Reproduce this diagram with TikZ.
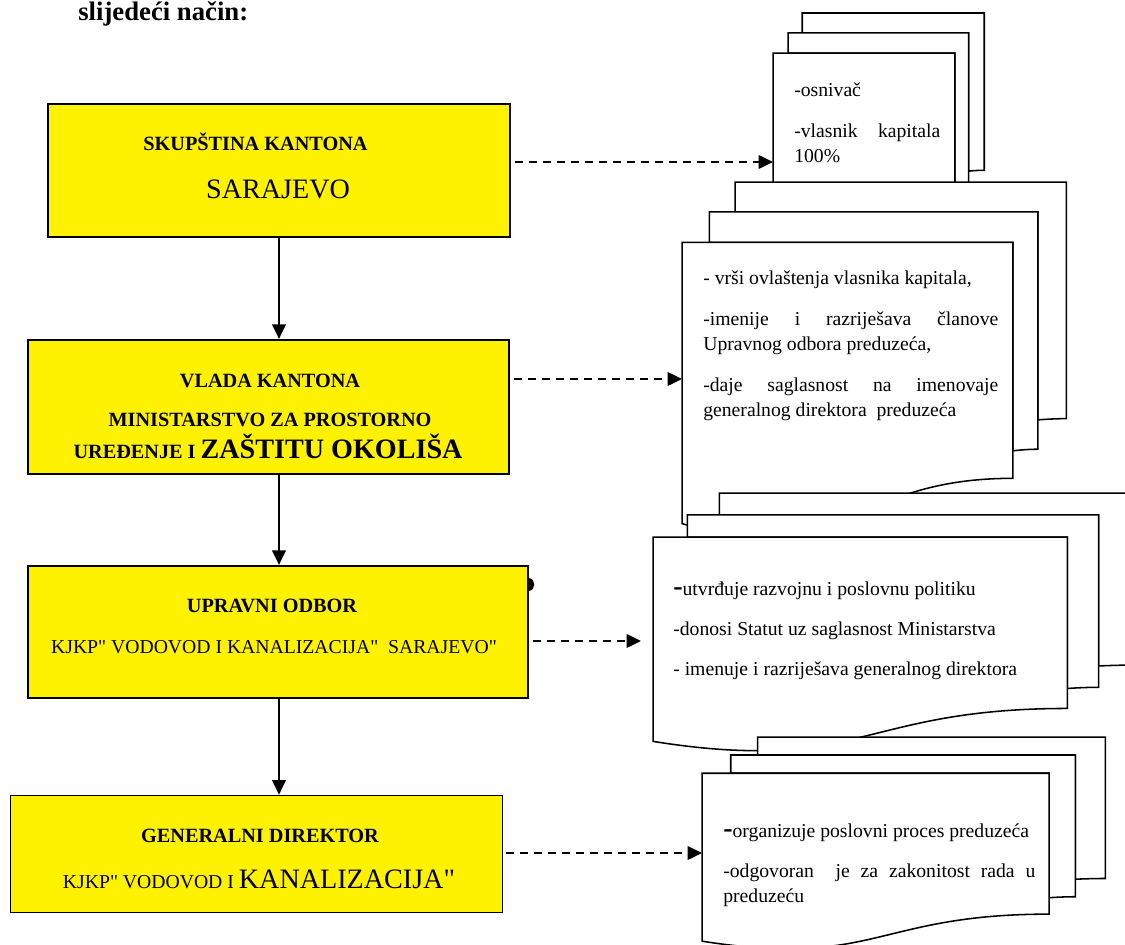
\documentclass[tikz,border=0pt]{standalone}
\usepackage{fontspec}
\setmainfont{Liberation Serif}[Ligatures=TeXOff]
\usepackage{tikz}
\usetikzlibrary{arrows.meta}
\hyphenpenalty=10000
\exhyphenpenalty=10000
\tolerance=10000

\begin{document}
\begin{tikzpicture}[x=0.025cm, y=-0.025cm,
        yellowbox/.style={draw, line width=1.6pt, fill=yellow, inner sep=0pt},
        sheet/.style={draw, line width=1.1pt, fill=white},
        boxtitle/.style={anchor=base, inner sep=0pt, font=\fontsize{14.4}{17}\selectfont\bfseries},
        boxline/.style={anchor=base, inner sep=0pt, font=\fontsize{14}{17}\selectfont},
        sheettext/.style={anchor=base west, inner sep=0pt, align=justify, font=\fontsize{14}{17.8}\selectfont},
        downarrow/.style={line width=1.2pt, -{Triangle[length=0.36cm, width=0.34cm]}},
        dasharrow/.style={line width=1.3pt, dash pattern=on 0.2cm off 0.15cm, shorten <=0.1cm, -{Triangle[length=0.36cm, width=0.34cm]}}]
        \useasboundingbox (0,0) rectangle (1125,945);
        \fill [white] (0,0) rectangle (1125,945);
        \clip (0,0) rectangle (1125,945);

        \node (naslov) [anchor=base west, inner sep=0pt, font=\fontsize{19}{22}\selectfont\bfseries] at (78,21) {slijedeći način:};

        \node (skupstina) [yellowbox, minimum width=11.55cm, minimum height=3.325cm] at (279,170.5) {};      %skupstina
        \node (skupstina1) [boxtitle] at (255.5,151) {SKUPŠTINA KANTONA};                                     %
        \node (skupstina2) [boxline, font=\fontsize{20}{24}\selectfont] at (278,199) {SARAJEVO};              %

        \node (vlada) [yellowbox, minimum width=12.025cm, minimum height=3.35cm] at (268.5,407) {};           %vlada
        \node (vlada1) [boxtitle] at (270,387) {VLADA KANTONA};                                               %
        \node (vlada2) [boxtitle] at (270,426) {MINISTARSTVO ZA PROSTORNO};                                   %
        \node (vlada3) [boxtitle] at (268,458) {UREĐENJE I {\fontsize{20}{24}\selectfont ZAŠTITU OKOLIŠA}};   %

        \node (odbor) [yellowbox, minimum width=12.5cm, minimum height=3.3cm] at (278,632) {};                %odbor
        \node (odbor1) [boxtitle] at (272,612) {UPRAVNI ODBOR};                                               %
        \node (odbor2) [boxline] at (274,653) {KJKP" VODOVOD I KANALIZACIJA"\ \ SARAJEVO"};                   %
        \fill (529,578) .. controls (536,579) and (536,590) .. (529,591) -- cycle;                            %

        \node (direktor) [yellowbox, line width=0.5pt, minimum width=12.3cm, minimum height=2.925cm] at (256,853.5) {}; %direktor
        \node (direktor1) [boxtitle] at (260,842) {GENERALNI DIREKTOR};                                       %
        \node (direktor2) [boxline] at (259,888) {KJKP" VODOVOD I {\fontsize{20}{24}\selectfont KANALIZACIJA"}}; %

        \draw [downarrow] (skupstina.south) -- (skupstina.south |- vlada.north);                              %
        \draw [downarrow] (skupstina.south |- vlada.south) -- (skupstina.south |- odbor.north);               %
        \draw [downarrow] (skupstina.south |- odbor.south) -- (skupstina.south |- direktor.north);            %

        \begin{scope}[shift={(19.325cm,-0.325cm)}, x=5.275cm, y=-5.9cm]                                      %stack A
        \draw [sheet] (0.1376,0.0840) -- (0.1376,0) -- (1,0) -- (1,0.6663) .. controls (0.9630,0.6663) and (0.9259,0.6698) .. (0.9259,0.6698) -- (0.9259,0.0840) -- cycle;
        \draw [sheet] (0.0709,0.1701) -- (0.0709,0.0840) -- (0.9259,0.0840) -- (0.9259,0.7524) .. controls (0.8934,0.7524) and (0.8609,0.7570) .. (0.8609,0.7570) -- (0.8609,0.1701) -- cycle;
        \draw [sheet] (0,0.9621) .. controls (0.4305,1.0899) and (0.4305,0.8344) .. (0.8609,0.8344) -- (0.8609,0.1701) -- (0,0.1701) -- cycle;
        \end{scope}

        \begin{scope}[shift={(17.05cm,-4.55cm)}, x=9.6cm, y=-8.875cm]                                        %stack B
        \draw [sheet] (0.1376,0.0840) -- (0.1376,0) -- (1,0) -- (1,0.6663) .. controls (0.9630,0.6663) and (0.9259,0.6698) .. (0.9259,0.6698) -- (0.9259,0.0840) -- cycle;
        \draw [sheet] (0.0709,0.1701) -- (0.0709,0.0840) -- (0.9259,0.0840) -- (0.9259,0.7524) .. controls (0.8934,0.7524) and (0.8609,0.7570) .. (0.8609,0.7570) -- (0.8609,0.1701) -- cycle;
        \draw [sheet] (0,0.9621) .. controls (0.4305,1.0899) and (0.4305,0.8344) .. (0.8609,0.8344) -- (0.8609,0.1701) -- (0,0.1701) -- cycle;
        \end{scope}

        \begin{scope}[shift={(16.325cm,-12.325cm)}, x=12.025cm, y=-6.45cm]                                   %stack C
        \draw [sheet] (0.1376,0.0840) -- (0.1376,0) -- (1,0) -- (1,0.6663) .. controls (0.9630,0.6663) and (0.9259,0.6698) .. (0.9259,0.6698) -- (0.9259,0.0840) -- cycle;
        \draw [sheet] (0.0709,0.1701) -- (0.0709,0.0840) -- (0.9259,0.0840) -- (0.9259,0.7524) .. controls (0.8934,0.7524) and (0.8609,0.7570) .. (0.8609,0.7570) -- (0.8609,0.1701) -- cycle;
        \draw [sheet] (0,0.9621) .. controls (0.4305,1.0899) and (0.4305,0.8344) .. (0.8609,0.8344) -- (0.8609,0.1701) -- (0,0.1701) -- cycle;
        \end{scope}

        \begin{scope}[shift={(17.55cm,-18.425cm)}, x=10.075cm, y=-5.3cm]                                     %stack D
        \draw [sheet] (0.1376,0.0840) -- (0.1376,0) -- (1,0) -- (1,0.6663) .. controls (0.9630,0.6663) and (0.9259,0.6698) .. (0.9259,0.6698) -- (0.9259,0.0840) -- cycle;
        \draw [sheet] (0.0709,0.1701) -- (0.0709,0.0840) -- (0.9259,0.0840) -- (0.9259,0.7524) .. controls (0.8934,0.7524) and (0.8609,0.7570) .. (0.8609,0.7570) -- (0.8609,0.1701) -- cycle;
        \draw [sheet] (0,0.9621) .. controls (0.4305,1.0899) and (0.4305,0.8344) .. (0.8609,0.8344) -- (0.8609,0.1701) -- (0,0.1701) -- cycle;
        \end{scope}

        \node (osnivac) [sheettext, text width=3.65cm] at (794,97)
              {\setlength{\parskip}{11pt}-osnivač\par -vlasnik kapitala 100\%};                                %
        \node (ovlastenja) [sheettext, text width=7.375cm] at (703,285)
              {\setlength{\parskip}{11pt}- vrši ovlaštenja vlasnika kapitala,\par
               -imenije i razriješava članove Upravnog odbora preduzeća,\par
               -daje saglasnost na imenovaje generalnog direktora\ \ preduzeća};                               %
        \node (politika) [sheettext, text width=9.5cm] at (673,595)
              {\setlength{\parskip}{11pt}{\fontsize{20}{17.8}\selectfont\bfseries -}utvrđuje razvojnu i poslovnu politiku\par
               -donosi Statut uz saglasnost Ministarstva\par
               - imenuje i razriješava generalnog direktora};                                                   %
        \node (proces) [sheettext, text width=7.8cm] at (723,837)
              {\setlength{\parskip}{11pt}{\fontsize{20}{17.8}\selectfont\bfseries -}organizuje poslovni proces preduzeća\par
               -odgovoran\ \ je za zakonitost rada u preduzeću};                                                %

        \coordinate (osnivacin) at (773,162);                                                                 %
        \coordinate (ovlastenjain) at (682,379);                                                              %
        \coordinate (politikain) at (641,641);                                                                %
        \coordinate (procesin) at (702,853);                                                                  %
        \draw [dasharrow] (osnivacin -| skupstina.east) -- (osnivacin);                                       %
        \draw [dasharrow] (ovlastenjain -| vlada.east) -- (ovlastenjain);                                     %
        \draw [dasharrow] (politikain -| odbor.east) -- (politikain);                                         %
        \draw [dasharrow] (procesin -| direktor.east) -- (procesin);                                          %
\end{tikzpicture}
\end{document}
